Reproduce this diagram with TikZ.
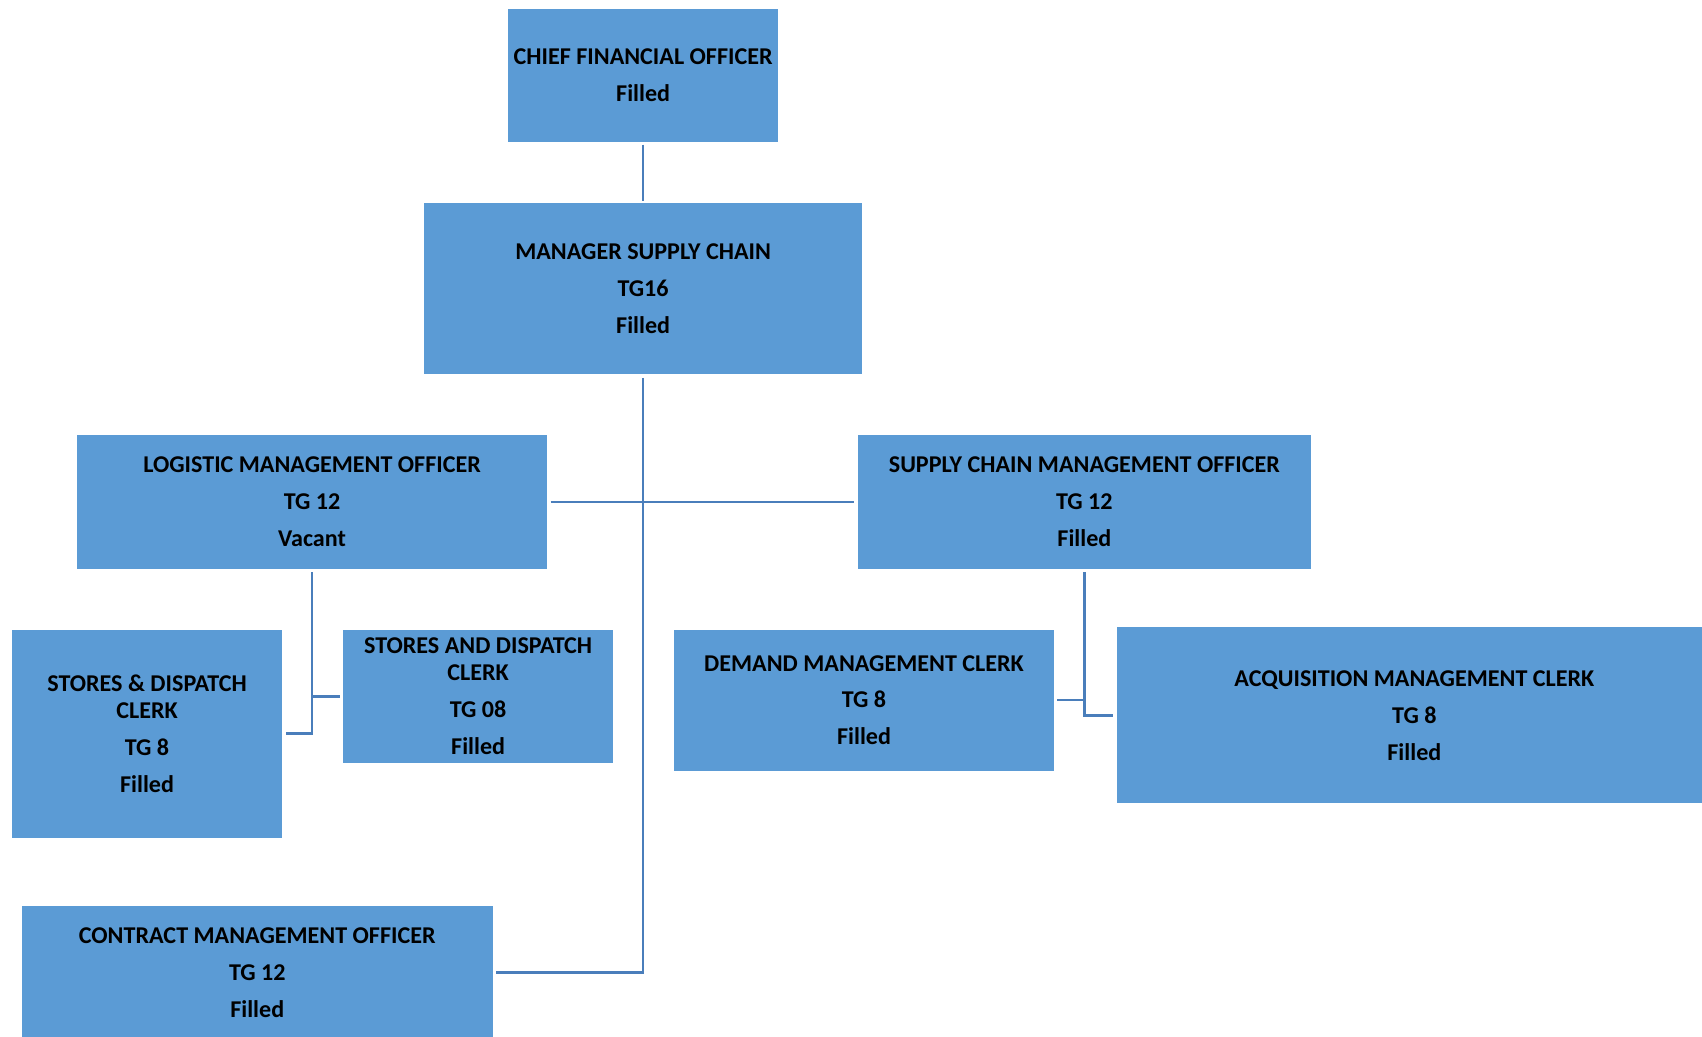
\documentclass[tikz,border=0pt]{standalone}
\usepackage{fontspec}
\setmainfont{Carlito}
\definecolor{boxblue}{HTML}{5B9BD5}
\definecolor{lineblue}{HTML}{4A7EBB}
\begin{document}
\begin{tikzpicture}[x=1pt,y=-1pt,
  post/.style={fill=boxblue, inner sep=0pt, align=center,
    font=\bfseries\fontsize{22.2}{25}\selectfont},
  link/.style={draw=lineblue, line width=2.4pt}]
\useasboundingbox (0,0) rectangle (1568,955);

% positions
\node[post, minimum width=249, minimum height=123] (cfo) at (592.5,69.5)
  {CHIEF FINANCIAL OFFICER\\[9pt] Filled};
\node[post, minimum width=403, minimum height=158] (msc) at (592.5,266)
  {MANAGER SUPPLY CHAIN\\[9pt] TG16\\[9pt] Filled};
\node[post, minimum width=433, minimum height=123] (lmo) at (287.5,462.5)
  {LOGISTIC MANAGEMENT OFFICER\\[9pt] TG 12\\[9pt] Vacant};
\node[post, minimum width=418, minimum height=123] (scmo) at (999,462.5)
  {SUPPLY CHAIN MANAGEMENT OFFICER\\[9pt] TG 12\\[9pt] Filled};
\node[post, minimum width=249, minimum height=192] (sdc) at (135.5,676)
  {STORES \& DISPATCH\\ CLERK\\[9pt] TG 8\\[9pt] Filled};
\node[post, minimum width=249, minimum height=123] (sadc) at (440.5,641.5)
  {STORES AND DISPATCH\\ CLERK\\[9pt] TG 08\\[9pt] Filled};
\node[post, minimum width=350, minimum height=130] (dmc) at (796,645)
  {DEMAND MANAGEMENT CLERK\\[9pt] TG 8\\[9pt] Filled};
\node[post, minimum width=548, minimum height=162] (amc) at (1303,659)
  {ACQUISITION MANAGEMENT CLERK\\[9pt] TG 8\\[9pt] Filled};
\node[post, minimum width=434, minimum height=122] (cmo) at (237,896)
  {CONTRACT MANAGEMENT OFFICER\\[9pt] TG 12\\[9pt] Filled};

% reporting lines
\draw[link, shorten <=2pt, shorten >=2pt] (cfo.south) -- (msc.north);
\draw[link, shorten <=3pt] (msc.south) |- ([xshift=3pt]cmo.east);
\draw[link] ([xshift=3pt]lmo.east) -- ([xshift=-3pt]scmo.west);
\draw[link, shorten <=3pt] (lmo.south) |- ([xshift=3pt]sdc.east);
\draw[link] (lmo.south |- sadc.west) -- ([xshift=-3pt]sadc.west);
\draw[link, shorten <=3pt] (scmo.south) |- ([xshift=-3pt]amc.west);
\draw[link] (scmo.south |- dmc.east) -- ([xshift=3pt]dmc.east);
\end{tikzpicture}
\end{document}
